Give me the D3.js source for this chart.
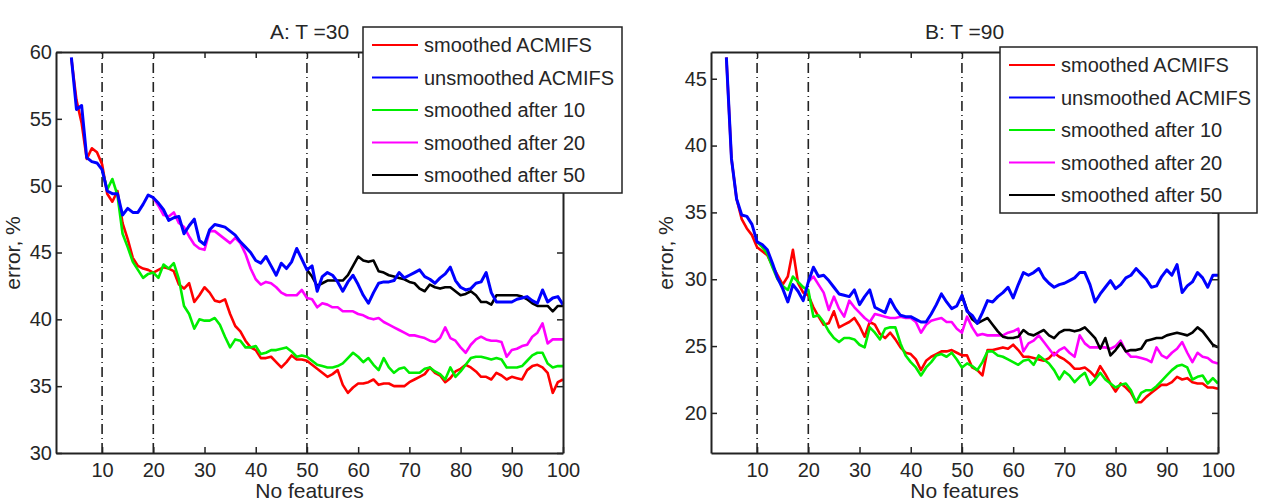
<!DOCTYPE html>
<html>
<head>
<meta charset="utf-8">
<script src="https://cdn.jsdelivr.net/npm/d3@7"></script>
<style>
  body { margin: 0; background: #fff; }
  svg text { font-family: "Liberation Sans", Arial, Helvetica, sans-serif; fill: #262626; }
</style>
</head>
<body>
<script>
// legend entries, same order in both panels
var seriesNames = ["smoothed ACMIFS", "unsmoothed ACMIFS", "smoothed after 10", "smoothed after 20", "smoothed after 50"];
var seriesColors = ["#ff0000", "#0000ff", "#00ee00", "#ff00ff", "#000000"];
var seriesStart = [4, 4, 10, 20, 50]; // first feature count of each series
var xTicks = [10, 20, 30, 40, 50, 60, 70, 80, 90, 100];
var markerLines = [10, 20, 50];

// panel A: T = 30
var yTicksA = [30, 35, 40, 45, 50, 55, 60];
var redA = [59.5, 56.4, 54.7, 52.0, 52.8, 52.5, 51.6, 49.4, 48.8, 49.6,
  47.2, 46.0, 44.6, 44.0, 43.8, 43.7, 43.5, 43.7, 43.9, 43.8,
  43.6, 42.6, 42.3, 42.7, 41.3, 41.8, 42.4, 42.0, 41.4, 41.3,
  41.5, 40.4, 39.5, 39.1, 38.4, 37.9, 37.7, 37.1, 37.1, 37.2,
  36.8, 36.4, 36.8, 37.3, 37.0, 37.0, 36.9, 36.6, 36.3, 36.0,
  35.7, 35.9, 36.2, 35.1, 34.5, 34.9, 35.2, 35.2, 35.3, 35.5,
  35.1, 35.2, 35.2, 35.0, 35.0, 35.0, 35.3, 35.5, 35.7, 35.9,
  36.4, 36.0, 35.8, 35.3, 35.6, 36.1, 36.3, 36.6, 36.4, 36.1,
  35.7, 35.7, 35.5, 36.0, 35.8, 35.5, 35.7, 35.6, 35.5, 36.2,
  36.5, 36.6, 36.4, 36.0, 34.5, 35.3, 35.5];
var blueA = [59.6, 55.7, 56.0, 52.1, 51.8, 51.7, 51.2, 49.6, 49.4, 49.4,
  47.8, 48.3, 48.0, 48.0, 48.6, 49.3, 49.1, 48.7, 48.2, 47.4,
  47.6, 47.7, 46.4, 47.0, 47.5, 45.9, 45.6, 46.7, 47.1, 47.0,
  46.9, 46.6, 46.3, 45.8, 45.4, 45.0, 44.4, 44.2, 44.7, 44.0,
  43.3, 44.2, 43.8, 44.3, 45.3, 44.5, 43.7, 44.0, 42.1, 43.2,
  43.5, 43.3, 42.8, 42.1, 42.8, 43.3, 42.6, 41.8, 41.2, 42.0,
  42.7, 42.8, 42.8, 42.9, 43.5, 43.1, 43.3, 43.5, 43.7, 43.2,
  43.0, 42.7, 43.1, 43.4, 43.9, 42.9, 42.4, 42.2, 42.3, 42.7,
  42.8, 43.5, 42.0, 41.3, 41.3, 41.3, 41.3, 41.5, 41.6, 41.7,
  41.4, 41.2, 42.2, 41.3, 41.6, 41.7, 41.1];
var greenA = [51.2, 49.7, 50.5, 49.3, 46.4, 45.4, 44.3, 43.7, 43.1, 43.4,
  43.5, 43.1, 44.1, 43.8, 44.2, 43.0, 41.0, 40.4, 39.3, 40.0,
  39.9, 39.9, 40.1, 39.6, 38.7, 37.9, 38.5, 38.4, 37.9, 37.9,
  38.0, 37.4, 37.5, 37.7, 37.7, 37.8, 37.9, 37.6, 37.2, 37.3,
  37.2, 36.9, 36.6, 36.5, 36.4, 36.4, 36.5, 36.7, 37.1, 37.5,
  37.2, 36.8, 37.1, 36.6, 36.2, 37.1, 36.4, 36.0, 36.3, 36.4,
  36.0, 36.0, 36.0, 36.3, 36.4, 36.1, 35.9, 35.5, 36.4, 35.7,
  36.1, 36.6, 37.1, 37.2, 37.2, 37.1, 37.0, 37.1, 37.0, 36.4,
  36.4, 36.4, 36.5, 36.9, 37.3, 37.5, 37.5, 36.7, 36.4, 36.5, 36.5];
var magentaA = [49.1, 48.5, 47.8, 47.7, 48.0, 47.2, 46.9, 46.2, 45.6, 45.3,
  45.2, 46.6, 46.6, 46.3, 46.0, 45.7, 46.1, 45.7, 44.9, 43.8,
  43.0, 42.6, 42.8, 42.7, 42.4, 42.0, 41.8, 41.8, 41.8, 42.2,
  41.6, 41.5, 40.9, 41.2, 41.1, 40.9, 40.9, 40.6, 40.6, 40.6,
  40.4, 40.3, 40.1, 40.0, 40.1, 39.8, 39.6, 39.4, 39.2, 39.0,
  38.8, 38.8, 38.7, 38.6, 38.4, 38.3, 38.6, 39.4, 38.6, 38.4,
  37.9, 37.5, 38.1, 38.5, 38.7, 38.5, 38.4, 38.4, 38.3, 37.2,
  37.7, 37.8, 38.0, 38.1, 38.7, 39.0, 39.7, 38.2, 38.5, 38.5, 38.5];
var blackA = [43.7, 43.2, 42.5, 42.7, 42.9, 42.9, 42.9, 42.9, 43.3, 44.0,
  44.7, 44.4, 44.3, 44.4, 43.6, 43.5, 43.3, 43.2, 43.1, 43.0,
  42.8, 42.7, 42.3, 42.1, 42.6, 42.4, 42.3, 42.4, 42.4, 42.1,
  41.8, 41.9, 42.1, 41.8, 41.3, 41.3, 41.1, 41.8, 41.8, 41.8,
  41.8, 41.8, 41.7, 41.5, 41.2, 41.0, 41.0, 41.0, 40.6, 41.0, 41.0];

// panel B: T = 90
var yTicksB = [20, 25, 30, 35, 40, 45];
var redB = [46.6, 39.0, 36.0, 34.5, 33.8, 33.3, 32.4, 32.1, 31.8, 31.0,
  30.3, 29.6, 30.2, 32.2, 29.7, 29.0, 28.8, 27.9, 27.2, 26.6,
  26.7, 27.6, 26.4, 26.6, 26.8, 27.1, 26.5, 25.7, 26.8, 26.6,
  25.9, 25.6, 26.0, 25.5, 24.9, 24.5, 24.4, 24.0, 23.2, 23.9,
  24.2, 24.4, 24.6, 24.6, 24.7, 24.5, 24.3, 24.3, 23.4, 23.2,
  22.8, 24.7, 24.7, 24.8, 24.9, 24.8, 25.1, 24.7, 24.2, 24.2,
  24.1, 24.0, 23.9, 24.1, 24.5, 24.2, 24.0, 23.7, 23.3, 23.3,
  23.4, 23.1, 22.7, 23.5, 22.9, 22.2, 21.6, 22.2, 21.9, 21.5,
  20.8, 20.8, 21.2, 21.5, 21.8, 22.1, 22.1, 22.3, 22.7, 22.5,
  22.6, 22.3, 22.2, 22.2, 21.9, 21.9, 21.8];
var blueB = [46.6, 39.0, 36.0, 34.8, 34.7, 34.1, 32.8, 32.6, 32.2, 31.2,
  30.1, 29.3, 28.3, 29.6, 29.1, 28.4, 29.8, 30.9, 30.2, 30.3,
  29.9, 29.4, 28.9, 28.8, 28.7, 29.2, 28.1, 28.7, 29.2, 27.9,
  27.7, 27.5, 28.5, 27.8, 27.3, 27.2, 27.2, 27.0, 26.8, 26.8,
  27.4, 28.1, 28.9, 28.3, 27.8, 28.0, 28.8, 27.6, 27.3, 26.7,
  27.5, 28.4, 28.3, 28.7, 29.0, 29.4, 28.6, 29.6, 30.5, 30.3,
  30.5, 30.8, 30.1, 29.7, 29.4, 29.6, 29.7, 29.9, 30.1, 30.5,
  30.5, 29.6, 28.3, 28.9, 29.4, 29.9, 29.3, 29.6, 30.1, 30.3,
  30.8, 30.4, 30.0, 29.4, 29.5, 30.2, 30.7, 30.3, 31.1, 29.0,
  29.5, 29.8, 30.5, 30.1, 29.4, 30.3, 30.3];
var greenB = [32.8, 32.4, 31.9, 30.9, 30.0, 29.5, 29.2, 30.2, 29.8, 29.4,
  29.2, 27.2, 27.3, 26.8, 26.1, 25.6, 25.3, 25.6, 25.6, 25.5,
  25.1, 24.9, 26.4, 26.0, 25.5, 26.3, 26.4, 26.4, 25.2, 24.3,
  23.8, 23.4, 22.8, 23.4, 23.8, 24.3, 24.4, 24.2, 24.5, 24.0,
  23.4, 23.7, 23.5, 23.2, 23.8, 24.6, 24.6, 24.3, 24.2, 24.0,
  23.8, 23.6, 23.9, 24.0, 23.6, 24.3, 24.0, 23.7, 23.2, 22.5,
  23.1, 22.8, 22.3, 22.7, 23.0, 22.1, 22.5, 23.0, 22.5, 22.2,
  21.9, 22.1, 22.2, 21.7, 20.8, 21.5, 21.7, 21.7, 22.0, 22.4,
  22.8, 23.2, 23.5, 23.6, 23.4, 22.5, 22.7, 22.8, 22.2, 22.6, 22.2];
var magentaB = [29.8, 30.2, 29.6, 29.0, 27.7, 28.7, 27.8, 27.2, 28.4, 27.9,
  27.5, 27.1, 26.8, 27.4, 27.3, 27.2, 27.1, 27.1, 27.2, 27.1,
  27.1, 26.8, 26.0, 26.6, 26.9, 27.0, 27.1, 26.8, 26.8, 26.3,
  26.0, 27.2, 26.4, 25.8, 25.9, 25.8, 25.8, 25.8, 25.8, 26.0,
  26.1, 26.3, 24.6, 25.2, 25.4, 25.8, 25.3, 24.8, 24.3, 24.7,
  24.9, 24.5, 24.2, 25.8, 25.2, 24.9, 24.9, 24.9, 24.9, 24.8,
  25.0, 25.4, 24.6, 24.2, 24.2, 24.1, 24.0, 23.8, 24.9, 24.3,
  24.1, 24.5, 24.8, 25.3, 24.5, 23.8, 24.5, 24.2, 24.1, 23.8, 23.7];
var blackB = [28.8, 27.7, 27.0, 26.7, 26.9, 27.1, 26.6, 26.1, 25.7, 25.6,
  25.6, 25.7, 26.2, 25.9, 25.8, 26.0, 26.2, 25.8, 25.6, 26.0,
  26.2, 26.2, 26.1, 26.2, 26.4, 26.0, 25.6, 24.8, 25.6, 24.3,
  24.7, 25.2, 24.6, 24.7, 24.7, 24.8, 25.4, 25.5, 25.6, 25.6,
  25.8, 25.9, 26.0, 25.9, 25.8, 26.0, 26.4, 26.1, 25.6, 25.1, 24.9];

var w = 1266, h = 498;

var svg = d3.select("body")
  .append("svg")
  .attr("width", w)
  .attr("height", h);

function drawPanel(p) {
  var x = d3.scaleLinear().domain([1, 100]).range([p.left, p.right]);
  var y = d3.scaleLinear().domain(p.yDomain).range([453, 52]);
  var g = svg.append("g");

  // dash-dot markers at 10, 20, 50
  g.selectAll(".marker")
    .data(markerLines)
    .enter()
    .append("line")
    .attr("x1", function(d){ return x(d); })
    .attr("x2", function(d){ return x(d); })
    .attr("y1", y.range()[0])
    .attr("y2", y.range()[1])
    .style("stroke", "#222")
    .style("stroke-width", 1.6)
    .style("stroke-dasharray", "10,4,1,4");

  // series lines, blue drawn last so it sits on top
  var line = d3.line()
    .x(function(d){ return x(d[0]); })
    .y(function(d){ return y(d[1]); });
  [0, 2, 3, 4, 1].forEach(function(i){
    var pts = p.series[i].map(function(v, k){ return [seriesStart[i] + k, v]; });
    g.append("path")
      .datum(pts)
      .attr("d", line)
      .style("fill", "none")
      .style("stroke", seriesColors[i])
      .style("stroke-width", i == 1 ? 3 : 2.6)
      .style("stroke-linejoin", "round");
  });

  // axes with inward ticks on all four sides
  var axes = [
    d3.axisBottom(x).tickValues(xTicks),
    d3.axisTop(x).tickValues(xTicks).tickFormat(""),
    d3.axisLeft(y).tickValues(p.yTicks),
    d3.axisRight(y).tickValues(p.yTicks).tickFormat("")
  ];
  var pos = ["translate(0,453)", "translate(0,52)", "translate(" + p.left + ",0)", "translate(" + p.right + ",0)"];
  var pads = [10, 4, 4, 4];
  axes.forEach(function(a, i){
    var ag = g.append("g")
      .attr("transform", pos[i])
      .call(a.tickSizeInner(-6).tickSizeOuter(0).tickPadding(pads[i]));
    ag.select(".domain").style("stroke", "#222").style("stroke-width", 2);
    ag.selectAll(".tick line").style("stroke", "#222").style("stroke-width", 1.5);
    ag.selectAll(".tick text")
      .style("font-size", "20px")
      .style("fill", "#262626")
      .style("font-family", "'Liberation Sans', Arial, sans-serif");
  });

  // title and axis labels
  svg.append("text")
    .attr("x", (p.left + p.right) / 2)
    .attr("y", 39)
    .attr("text-anchor", "middle")
    .style("font-size", "21px")
    .text(p.title);
  svg.append("text")
    .attr("x", (p.left + p.right) / 2)
    .attr("y", 498)
    .attr("text-anchor", "middle")
    .style("font-size", "21px")
    .text("No features");
  svg.append("text")
    .attr("transform", "translate(" + p.ylabelX + ",253) rotate(-90)")
    .attr("text-anchor", "middle")
    .style("font-size", "21px")
    .text("error, %");

  // legend box
  var lg = svg.append("g").attr("transform", "translate(" + p.legend[0] + "," + p.legend[1] + ")");
  lg.append("rect")
    .attr("width", p.legend[2])
    .attr("height", 166)
    .style("fill", "#fff")
    .style("stroke", "#222")
    .style("stroke-width", 1.5);
  var rows = lg.selectAll(".row")
    .data(seriesNames)
    .enter()
    .append("g")
    .attr("transform", function(d, i){ return "translate(0," + (18 + i * 32.5) + ")"; });
  rows.append("line")
    .attr("x1", 9).attr("x2", 55)
    .style("stroke", function(d, i){ return seriesColors[i]; })
    .style("stroke-width", 2.2);
  rows.append("text")
    .attr("x", 61)
    .attr("y", 7)
    .style("font-size", "20px")
    .text(function(d){ return d; });
}

drawPanel({
  left: 56, right: 563, yDomain: [30, 60], yTicks: yTicksA,
  title: "A: T =30", ylabelX: 20, legend: [363, 27, 259],
  series: [redA, blueA, greenA, magentaA, blackA]
});
drawPanel({
  left: 711, right: 1218, yDomain: [17, 47], yTicks: yTicksB,
  title: "B: T =90", ylabelX: 673, legend: [1000, 47, 257],
  series: [redB, blueB, greenB, magentaB, blackB]
});
</script>
</body>
</html>
